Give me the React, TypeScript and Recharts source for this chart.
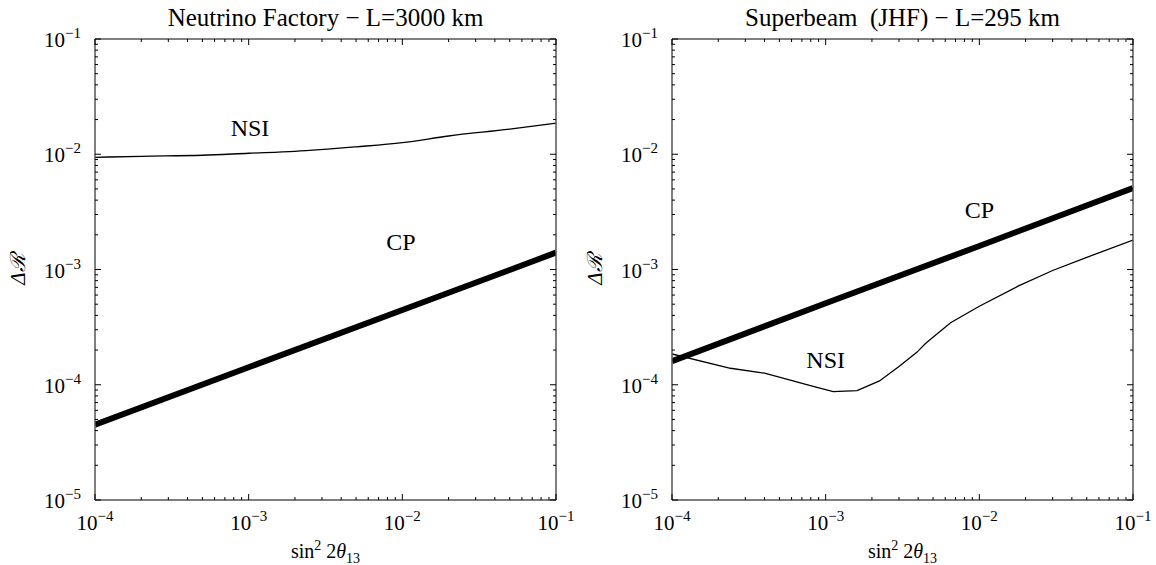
import { LineChart, Line, XAxis, YAxis, ReferenceDot, Label } from "recharts";

// ─── Data ──────────────────────────────────────────────────────────────────

const nfNsiX = [1e-4, 2e-4, 5e-4, 1e-3, 2e-3, 5e-3, 1e-2, 2e-2, 5e-2, 1e-1];
const nfNsiY = [9.4e-3, 9.6e-3, 9.8e-3, 1.02e-2, 1.06e-2, 1.16e-2, 1.26e-2, 1.44e-2, 1.65e-2, 1.86e-2];

const nfCpX = [1e-4, 1e-3, 1e-2, 1e-1];
const nfCpY = [4.5e-5, 1.42e-4, 4.45e-4, 1.4e-3];

const sbNsiX = [1e-4, 2.4e-4, 4e-4, 8.3e-4, 1.12e-3, 1.6e-3, 2.24e-3, 3e-3, 3.9e-3, 4.5e-3, 6.5e-3, 1e-2, 1.8e-2, 3e-2, 5.2e-2, 1e-1];
const sbNsiY = [1.85e-4, 1.39e-4, 1.26e-4, 9.7e-5, 8.7e-5, 8.9e-5, 1.08e-4, 1.44e-4, 1.9e-4, 2.3e-4, 3.45e-4, 4.8e-4, 7.2e-4, 9.8e-4, 1.3e-3, 1.8e-3];

const sbCpX = [1e-4, 1e-3, 1e-2, 1e-1];
const sbCpY = [1.6e-4, 5.1e-4, 1.6e-3, 5.1e-3];

const xDecades = [-4, -3, -2, -1];
const yDecades = [-5, -4, -3, -2, -1];

const nfTitle = "Neutrino Factory \u2212 L=3000 km";
const sbTitle = "Superbeam  (JHF) \u2212 L=295 km";

const zip = (xs: number[], ys: number[]) => xs.map((x, i) => ({ x, y: ys[i] }));

// log ticks: 1..9 × 10^d for each decade, plus the last decade value
function logTicks(decades: number[]) {
  const out: number[] = [];
  for (let i = 0; i < decades.length - 1; i++) {
    for (let k = 1; k <= 9; k++) out.push(k * Math.pow(10, decades[i]));
  }
  out.push(Math.pow(10, decades[decades.length - 1]));
  return out;
}

const xTicks = logTicks(xDecades);
const yTicks = logTicks(yDecades);
const xDomain = [1e-4, 1e-1];
const yDomain = [1e-5, 1e-1];

// ─── Styles ────────────────────────────────────────────────────────────────

const FONT = '"Liberation Serif", "Times New Roman", Times, serif';
const txt = { fontFamily: FONT };
const FRAME = "#555";
const axisLine = { stroke: FRAME, strokeWidth: 1.5 };

const isDecade = (v: number) => {
  const l = Math.log10(v);
  return Math.abs(l - Math.round(l)) < 1e-6;
};
const expOf = (v: number) => Math.round(Math.log10(v));

function Pow({ x, y, v, anchor }: { x: number; y: number; v: number; anchor: "middle" | "end" }) {
  const e = expOf(v);
  return (
    <text x={x} y={y} textAnchor={anchor} style={txt} fontSize={21} fill="#000">
      10
      <tspan dy={-9} fontSize={15}>
        {e < 0 ? `\u2212${-e}` : `${e}`}
      </tspan>
    </text>
  );
}

// ─── Tick marks (drawn inward on all four sides) ───────────────────────────

function BottomTick(props: any) {
  const { x, y, payload } = props;
  const major = isDecade(payload.value);
  return (
    <g>
      <line x1={x} x2={x} y1={y} y2={y - (major ? 6 : 3)} stroke="#000" strokeWidth={1} />
      {major && <Pow x={x} y={y + 30} v={payload.value} anchor="middle" />}
    </g>
  );
}

function TopTick(props: any) {
  const { x, y, payload } = props;
  const major = isDecade(payload.value);
  return <line x1={x} x2={x} y1={y} y2={y + (major ? 6 : 3)} stroke="#000" strokeWidth={1} />;
}

function LeftTick(props: any) {
  const { x, y, payload } = props;
  const major = isDecade(payload.value);
  return (
    <g>
      <line x1={x} x2={x + (major ? 6 : 3)} y1={y} y2={y} stroke="#000" strokeWidth={1} />
      {major && <Pow x={x - 14} y={y + 8} v={payload.value} anchor="end" />}
    </g>
  );
}

function RightTick(props: any) {
  const { x, y, payload } = props;
  const major = isDecade(payload.value);
  return <line x1={x} x2={x - (major ? 6 : 3)} y1={y} y2={y} stroke="#000" strokeWidth={1} />;
}

// ─── Labels ────────────────────────────────────────────────────────────────

function TitleLabel({ viewBox, text }: any) {
  const { x, width } = viewBox;
  return (
    <text x={x + width / 2} y={26} textAnchor="middle" style={{ ...txt, whiteSpace: "pre" }} fontSize={25} fill="#000">
      {text}
    </text>
  );
}

function XTitle({ viewBox }: any) {
  const { x, width } = viewBox;
  return (
    <text x={x + width / 2} y={558} textAnchor="middle" style={txt} fontSize={20} fill="#000">
      sin
      <tspan dy={-8} fontSize={14}>2</tspan>
      <tspan dy={8}> 2</tspan>
      <tspan fontStyle="italic">θ</tspan>
      <tspan dy={5} fontSize={14}>13</tspan>
    </text>
  );
}

function YTitle({ viewBox }: any) {
  const { y, height } = viewBox;
  const cy = y + height / 2;
  return (
    <text x={25} y={cy} textAnchor="middle" style={txt} fontSize={21} fill="#000" fontStyle="italic" transform={`rotate(-90 25 ${cy})`}>
      {"\u0394\u211B"}
    </text>
  );
}

function Tag({ viewBox, text }: any) {
  return (
    <text x={viewBox.x} y={viewBox.y} textAnchor="middle" style={txt} fontSize={24} fill="#000">
      {text}
    </text>
  );
}

// ─── Panel ─────────────────────────────────────────────────────────────────

interface PanelProps {
  title: string;
  nsi: { x: number; y: number }[];
  cp: { x: number; y: number }[];
  nsiCurve: "monotone" | "linear";
  tags: { x: number; y: number; text: string }[];
}

function Panel({ title, nsi, cp, nsiCurve, tags }: PanelProps) {
  return (
    <LineChart width={578} height={565} margin={{ top: 0, right: 0, bottom: 0, left: 0 }}>
      <XAxis
        xAxisId="b"
        dataKey="x"
        type="number"
        scale="log"
        domain={xDomain}
        ticks={xTicks}
        allowDataOverflow
        orientation="bottom"
        height={65}
        tickSize={0}
        tickMargin={0}
        tickLine={false}
        axisLine={axisLine}
        tick={<BottomTick />}
        interval={0}
      >
        <Label content={<XTitle />} />
      </XAxis>
      <XAxis
        xAxisId="t"
        dataKey="x"
        type="number"
        scale="log"
        domain={xDomain}
        ticks={xTicks}
        allowDataOverflow
        orientation="top"
        height={39}
        tickSize={0}
        tickMargin={0}
        tickLine={false}
        axisLine={axisLine}
        tick={<TopTick />}
        interval={0}
      >
        <Label content={<TitleLabel text={title} />} />
      </XAxis>
      <YAxis
        yAxisId="l"
        type="number"
        scale="log"
        domain={yDomain}
        ticks={yTicks}
        allowDataOverflow
        orientation="left"
        width={95}
        tickSize={0}
        tickMargin={0}
        tickLine={false}
        axisLine={axisLine}
        tick={<LeftTick />}
        interval={0}
      >
        <Label content={<YTitle />} />
      </YAxis>
      <YAxis
        yAxisId="r"
        type="number"
        scale="log"
        domain={yDomain}
        ticks={yTicks}
        allowDataOverflow
        orientation="right"
        width={22}
        tickSize={0}
        tickMargin={0}
        tickLine={false}
        axisLine={axisLine}
        tick={<RightTick />}
        interval={0}
      />

      <Line
        xAxisId="b"
        yAxisId="l"
        data={nsi}
        dataKey="y"
        type={nsiCurve}
        stroke="#000"
        strokeWidth={1.3}
        dot={false}
        isAnimationActive={false}
      />
      <Line
        xAxisId="b"
        yAxisId="l"
        data={cp}
        dataKey="y"
        type="linear"
        stroke="#000"
        strokeWidth={6}
        dot={false}
        isAnimationActive={false}
      />

      {tags.map((t) => (
        <ReferenceDot
          key={t.text}
          xAxisId="b"
          yAxisId="l"
          x={t.x}
          y={t.y}
          r={0}
          fill="none"
          stroke="none"
          ifOverflow="visible"
          label={<Tag text={t.text} />}
        />
      ))}
    </LineChart>
  );
}

// ─── App ───────────────────────────────────────────────────────────────────

export default function App() {
  return (
    <div style={{ position: "absolute", left: 0, top: 0, width: 1156, height: 565, background: "#fff", fontFamily: FONT }}>
      <div style={{ position: "absolute", left: 0, top: 0 }}>
        <Panel
          title={nfTitle}
          nsi={zip(nfNsiX, nfNsiY)}
          cp={zip(nfCpX, nfCpY)}
          nsiCurve="monotone"
          tags={[
            { x: 1.02e-3, y: 1.45e-2, text: "NSI" },
            { x: 9.8e-3, y: 1.48e-3, text: "CP" },
          ]}
        />
      </div>
      <div style={{ position: "absolute", left: 577, top: 0 }}>
        <Panel
          title={sbTitle}
          nsi={zip(sbNsiX, sbNsiY)}
          cp={zip(sbCpX, sbCpY)}
          nsiCurve="linear"
          tags={[
            { x: 1.0e-2, y: 2.8e-3, text: "CP" },
            { x: 1.0e-3, y: 1.4e-4, text: "NSI" },
          ]}
        />
      </div>
    </div>
  );
}
